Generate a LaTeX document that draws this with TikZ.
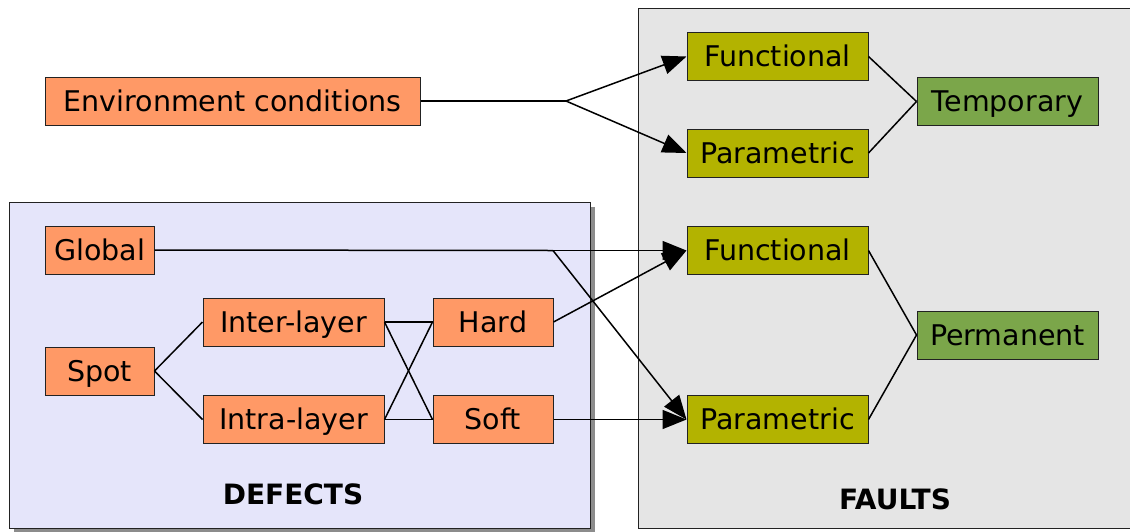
\documentclass[tikz,border=0pt]{standalone}
\usepackage{fontspec}
\setmainfont{DejaVu Sans}
\usetikzlibrary{arrows.meta}
\definecolor{orangebox}{HTML}{FF9966}
\definecolor{olivebox}{HTML}{B3B300}
\definecolor{greenbox}{HTML}{7BA64A}
\definecolor{defectsbg}{HTML}{E5E5FA}
\definecolor{faultsbg}{HTML}{E5E5E5}
\definecolor{shadowgray}{HTML}{8C8C8C}
\definecolor{edge}{HTML}{222222}
\tikzset{
  box/.style={draw=edge, line width=1pt, minimum height=48pt, inner sep=0pt,
    text height=20.8pt, text depth=0pt, font=\fontsize{28.5}{32}\selectfont},
  obox/.style={box, fill=orangebox},
  lbox/.style={box, fill=olivebox, minimum width=181pt},
  gbox/.style={box, fill=greenbox, minimum width=181pt},
  conn/.style={line width=1.5pt, black},
  arr/.style={conn, -{Triangle[length=24pt,width=19pt]}},
  paneltitle/.style={font=\bfseries\fontsize{28}{30}\selectfont},
}
\begin{document}
\begin{tikzpicture}[x=1pt,y=-1pt]
\useasboundingbox (0,0) rectangle (1130,531);
% panels
\fill[shadowgray] (14,207) rectangle (595,533);
\draw[draw=edge, line width=1pt, fill=defectsbg] (9,202) rectangle (590,528);
\draw[draw=edge, line width=1pt, fill=faultsbg] (1140,8) -- (638,8) -- (638,528) -- (1140,528);
\node[paneltitle] (deflabel) at (293,494) {DEFECTS};
\node[paneltitle] (faultlabel) at (895,499) {FAULTS};
% nodes
\node[obox, minimum width=375pt] (env) at (232.5,101) {Environment conditions};
\node[obox, minimum width=109pt] (global) at (99.5,250) {Global};
\node[obox, minimum width=109pt] (spot) at (99.5,371) {Spot};
\node[obox, minimum width=181pt] (inter) at (293.5,322) {Inter-layer};
\node[obox, minimum width=181pt] (intra) at (293.5,419.5) {Intra-layer};
\node[obox, minimum width=120pt] (hard) at (493,322) {Hard};
\node[obox, minimum width=120pt] (soft) at (493,419.5) {Soft};
\node[lbox] (func1) at (777.5,56.5) {Functional};
\node[lbox] (para1) at (777.5,153) {Parametric};
\node[gbox] (temp) at (1007.5,101.5) {Temporary};
\node[lbox] (func2) at (777.5,250.5) {Functional};
\node[lbox] (para2) at (777.5,419.5) {Parametric};
\node[gbox] (perm) at (1007.5,335) {Permanent};
% connectors
\coordinate (split) at (566,101);
\coordinate (gsplit) at (553,250.5);
\draw[conn] (env.east) -- (split);
\draw[arr] (split) -- (func1.west);
\draw[arr] (split) -- (para1.west);
\draw[conn] (func1.east) -- (temp.west);
\draw[conn] (para1.east) -- (temp.west);
\draw[conn] (global.east) -- (gsplit);
\draw[arr] (gsplit) -- (func2.west);
\draw[arr] (gsplit) -- (para2.west);
\draw[conn] (spot.east) -- (inter.west);
\draw[conn] (spot.east) -- (intra.west);
\draw[conn] (inter.east) -- (hard.west);
\draw[conn] (inter.east) -- (soft.west);
\draw[conn] (intra.east) -- (hard.west);
\draw[conn] (intra.east) -- (soft.west);
\draw[arr] (hard.east) -- (func2.west);
\draw[arr] (soft.east) -- (para2.west);
\draw[conn] (func2.east) -- (perm.west);
\draw[conn] (para2.east) -- (perm.west);
\end{tikzpicture}
\end{document}
